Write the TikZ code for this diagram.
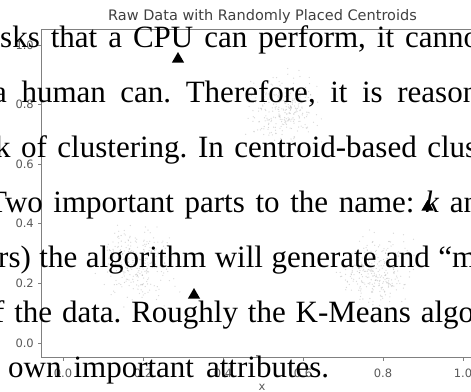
\documentclass[tikz,border=0pt]{standalone}
\usepackage{fontspec}
\setmainfont{Liberation Serif}
\newfontfamily\plotfont{DejaVu Sans}
\usetikzlibrary{shapes.geometric}
\frenchspacing

\tikzset{
  spine/.style={draw=black!50, line width=0.9pt},
  ticklabel/.style={font=\plotfont\fontsize{11.5}{13}\selectfont, text=black!65, inner sep=1pt},
  centroid/.style={regular polygon, regular polygon sides=3, fill=black, inner sep=0pt, minimum size=14pt},
  textline/.style={anchor=base west, inner sep=0pt, font=\fontsize{31}{37}\selectfont},
}

\begin{document}
\begin{tikzpicture}[x=1pt, y=-1pt]
\useasboundingbox (0,0) rectangle (471,391);
\clip (0,0) rectangle (471,391);
\pgfmathsetmacro{\xzero}{63}
\pgfmathsetmacro{\yzero}{343}
\pgfmathsetmacro{\xunit}{400}
\pgfmathsetmacro{\yunit}{298}

% Draw spines
\draw[spine] (41.5,29) -- (41.5,357) -- (484,357);
\draw[spine] (41.5,29) -- (484,29);

% Draw ticks
\foreach \i/\lab in {0/0.0,1/0.2,2/0.4,3/0.6,4/0.8,5/1.0} {
  \pgfmathsetmacro{\tx}{\xzero + \i*0.2*\xunit}
  \pgfmathsetmacro{\ty}{\yzero - \i*0.2*\yunit}
  \draw[spine] (\tx,357) -- (\tx,360.5);
  \draw[spine] (41.5,\ty) -- (38,\ty);
  \node[ticklabel, anchor=base] (xtick\i) at (\tx,377) {\lab};
  \node[ticklabel, anchor=east] (ytick\i) at (35,\ty) {\lab};
}
\node[ticklabel, anchor=base] (xlabel) at (262,390) {x};

% Draw title
\node[ticklabel, font=\plotfont\fontsize{14.5}{16}\selectfont, text=black!75, anchor=base] (title) at (262.5,20) {Raw Data with Randomly Placed Centroids};

% Draw blobs
\pgfmathsetseed{42}
\foreach \cx/\cy in {0.55/0.79, 0.19/0.27, 0.785/0.245} {
  \foreach \k in {1,...,300} {
    \pgfmathsetmacro{\dx}{\xzero + \xunit*\cx + 16*(rand+rand+rand)}
    \pgfmathsetmacro{\dy}{\yzero - \yunit*\cy + 16*(rand+rand+rand)}
    \fill[black!35, opacity=0.45] (\dx,\dy) circle[radius=0.65pt];
  }
}

% Draw centroids
\node[centroid] (cent1) at (178,59) {};
\node[centroid] (cent2) at (427.5,207) {};
\node[centroid] (cent3) at (194,295) {};

% Draw text lines
\node[textline] (line1) at (0,47) {\makebox[479pt][s]{sks that a CPU can perform, it canno}};
\node[textline] (line2) at (-7,102) {\makebox[485pt][s]{a human can. Therefore, it is reason}};
\node[textline] (line3) at (-5,157) {\makebox[482pt][s]{k of clustering. In centroid-based clus}};
\node[textline] (line4) at (-12,212) {\makebox[491pt][s]{Two important parts to the name: \textit{k} an}};
\node[textline] (line5) at (-2,267) {\makebox[478pt][s]{rs) the algorithm will generate and “m}};
\node[textline] (line6) at (-6,322) {\makebox[480pt][s]{f the data. Roughly the K-Means algo}};
\node[textline] (line7) at (8,377) {\makebox[321pt][s]{own important attributes.}};
\end{tikzpicture}
\end{document}
